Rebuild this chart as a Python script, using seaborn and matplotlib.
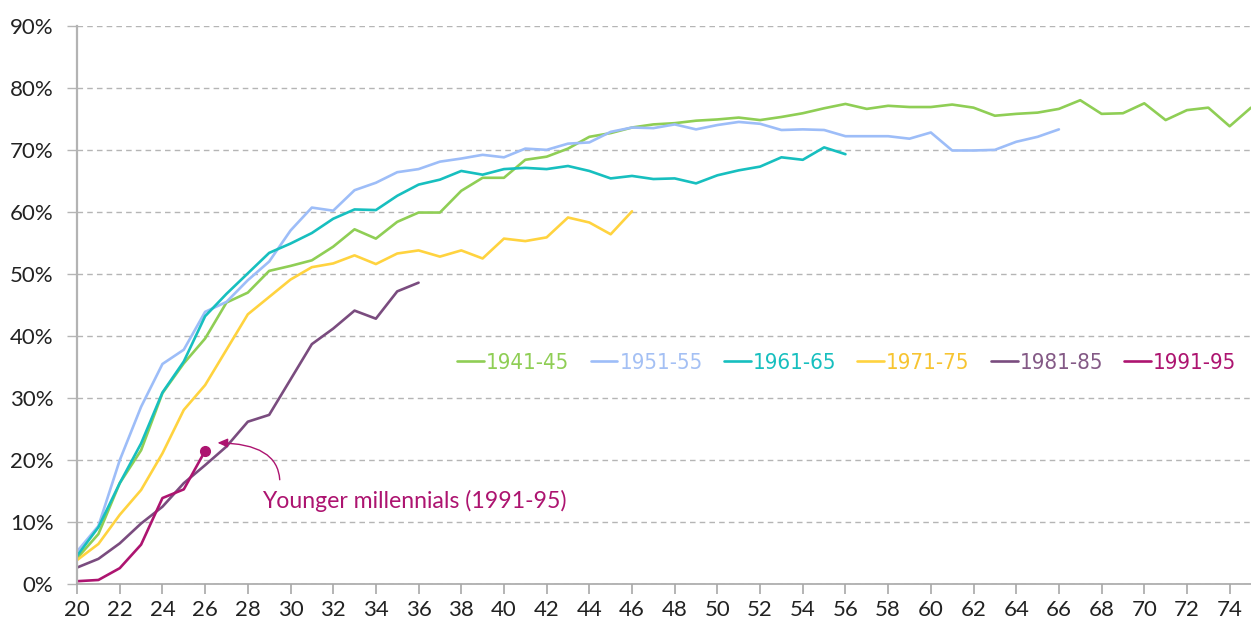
import matplotlib
matplotlib.use("Agg")
import matplotlib.pyplot as plt
import pandas as pd
import seaborn as sns

# share of each birth cohort (in %), by age, starting at age 20
cohorts = ["1941-45", "1951-55", "1961-65", "1971-75", "1981-85", "1991-95"]

c1941 = [4.2, 8.1, 16.3, 21.6, 30.8, 35.6, 39.6, 45.4, 47.0, 50.5,
         51.3, 52.2, 54.4, 57.2, 55.7, 58.4, 59.9, 59.9, 63.4, 65.5,
         65.5, 68.4, 68.9, 70.2, 72.1, 72.7, 73.6, 74.1, 74.3, 74.7,
         74.9, 75.2, 74.8, 75.3, 75.9, 76.7, 77.4, 76.6, 77.1, 76.9,
         76.9, 77.3, 76.8, 75.5, 75.8, 76.0, 76.6, 78.0, 75.8, 75.9,
         77.5, 74.8, 76.4, 76.8, 73.8, 76.8]
c1951 = [5.3, 9.4, 20.0, 28.6, 35.5, 37.8, 43.9, 45.5, 49.0, 52.0,
         57.0, 60.7, 60.2, 63.5, 64.7, 66.4, 66.9, 68.1, 68.6, 69.2,
         68.8, 70.2, 70.0, 71.0, 71.2, 72.9, 73.6, 73.5, 74.1, 73.3,
         74.0, 74.5, 74.2, 73.2, 73.3, 73.2, 72.2, 72.2, 72.2, 71.8,
         72.8, 69.9, 69.9, 70.0, 71.3, 72.1, 73.3]
c1961 = [4.6, 9.2, 16.3, 22.7, 30.9, 35.9, 43.2, 46.8, 50.1, 53.4,
         54.9, 56.6, 58.9, 60.4, 60.3, 62.6, 64.4, 65.2, 66.6, 66.0,
         66.9, 67.1, 66.9, 67.4, 66.6, 65.4, 65.8, 65.3, 65.4, 64.6,
         65.9, 66.7, 67.3, 68.8, 68.4, 70.4, 69.3]
c1971 = [3.9, 6.5, 11.2, 15.2, 21.1, 28.1, 32.1, 37.8, 43.5, 46.3,
         49.1, 51.1, 51.7, 53.0, 51.6, 53.3, 53.8, 52.8, 53.8, 52.5,
         55.7, 55.3, 55.9, 59.1, 58.3, 56.4, 60.1]
c1981 = [2.7, 4.1, 6.6, 9.8, 12.5, 16.3, 19.2, 22.2, 26.2, 27.3,
         33.0, 38.7, 41.2, 44.1, 42.8, 47.2, 48.6]
c1991 = [0.5, 0.7, 2.6, 6.4, 13.9, 15.3, 21.5]

line_colors = ["#8fce55", "#9dbdf8", "#17bfbf", "#ffd33f", "#7a4c7f", "#ad1470"]
text_colors = ["#8fce55", "#a4c0f4", "#17bfbf", "#f7c431", "#845a86", "#ad1470"]

x_ticks = list(range(20, 75, 2))
y_ticks = list(range(0, 91, 10))

series = [c1941, c1951, c1961, c1971, c1981, c1991]
rows = []
for name, vals in zip(cohorts, series):
    for i, v in enumerate(vals):
        rows.append({"age": 20 + i, "share": v, "cohort": name})
df = pd.DataFrame(rows)

sns.set_theme(style="white")
plt.rcParams["font.family"] = ["Lato", "DejaVu Sans"]

fig = plt.figure(figsize=(12.51, 6.23), dpi=100)
ax = fig.add_axes([0.0616, 0.0621, 0.9384, 0.8966])

sns.lineplot(data=df, x="age", y="share", hue="cohort", hue_order=cohorts,
             palette=dict(zip(cohorts, line_colors)), linewidth=1.9, ax=ax)

# end marker for youngest cohort + annotation
ax.plot(26, c1991[-1], "o", color=line_colors[-1], ms=7, zorder=5)
ax.annotate("", xy=(26.45, 22.8), xytext=(29.5, 16.4),
            arrowprops=dict(arrowstyle="-|>,head_length=0.5,head_width=0.22",
                            color=line_colors[-1], lw=1.0,
                            connectionstyle="angle3,angleA=90,angleB=0"))
ax.text(28.68, 12.3, "Younger millennials (1991-95)", color=line_colors[-1],
        fontsize=16.6, va="baseline", ha="left")

ax.set_xlim(20, 75)
ax.set_ylim(0, 90)
ax.set_xticks(x_ticks)
ax.set_yticks(y_ticks)
ax.set_yticklabels([f"{v}%" for v in y_ticks])
ax.set_xlabel("")
ax.set_ylabel("")

ax.grid(axis="y", color="#b5b5b5", linestyle=(0, (4, 3)), linewidth=1.0)
ax.grid(axis="x", visible=False)
for s in ["top", "right"]:
    ax.spines[s].set_visible(False)
ax.spines["left"].set_color("#b3b3b3")
ax.spines["left"].set_linewidth(1.6)
ax.spines["bottom"].set_color("#a8a8a8")
ax.spines["bottom"].set_linewidth(1.2)
ax.tick_params(axis="x", bottom=True, length=7, width=1.2, color="#a8a8a8",
               labelsize=16, labelcolor="#222222", pad=4)
ax.tick_params(axis="y", left=True, length=7, width=1.0, color="#b5b5b5",
               labelsize=16, labelcolor="#222222", pad=10)

handles, labels = ax.get_legend_handles_labels()
leg = ax.legend(handles, labels, ncol=6, frameon=False, loc="center",
                bbox_to_anchor=(0.677, 0.418), bbox_transform=fig.transFigure,
                handlelength=1.2, handletextpad=0.1, columnspacing=0.95,
                prop=dict(family=["DejaVu Sans"], stretch="condensed",
                          size=16))
for t, c in zip(leg.get_texts(), text_colors):
    t.set_color(c)

fig.savefig("out.png", dpi=100)
